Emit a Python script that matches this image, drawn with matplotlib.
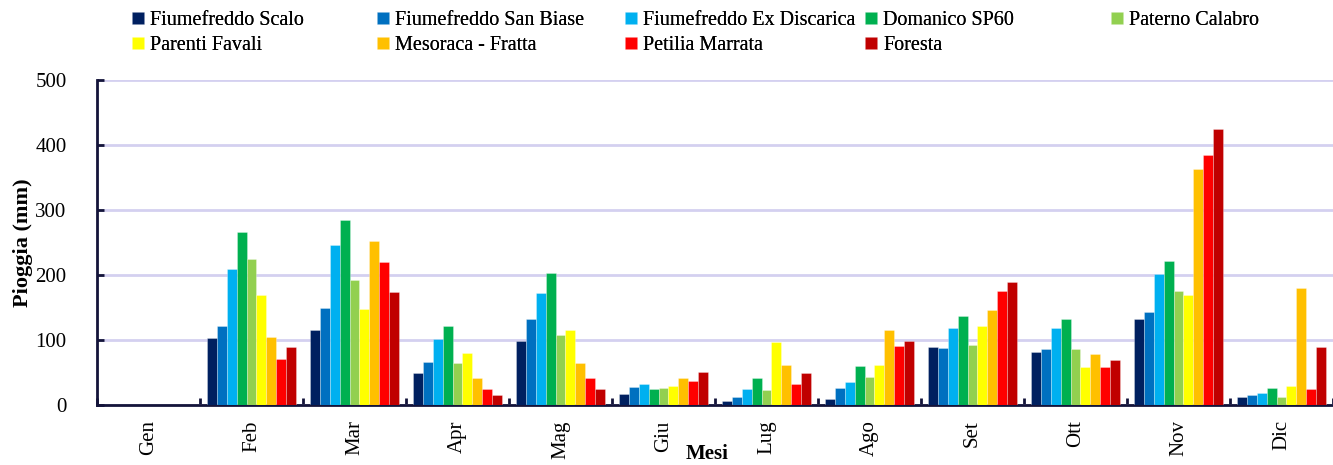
import matplotlib
matplotlib.use("Agg")
import matplotlib.pyplot as plt
import numpy as np

months = ["Gen", "Feb", "Mar", "Apr", "Mag", "Giu", "Lug", "Ago", "Set", "Ott", "Nov", "Dic"]

fiumefreddo_scalo = [0, 103, 116, 49, 99, 17, 6, 10, 90, 82, 132, 13]
fiumefreddo_san_biase = [0, 121, 149, 66, 133, 27, 13, 26, 87, 86, 143, 15]
fiumefreddo_ex_discarica = [0, 209, 246, 102, 173, 32, 24, 35, 118, 118, 201, 18]
domanico_sp60 = [0, 266, 285, 121, 203, 25, 41, 60, 137, 133, 221, 26]
paterno_calabro = [0, 225, 192, 64, 108, 26, 23, 43, 92, 86, 175, 13]
parenti_favali = [0, 169, 147, 80, 116, 29, 97, 61, 121, 59, 169, 30]
mesoraca_fratta = [0, 104, 253, 41, 64, 41, 61, 115, 146, 79, 363, 180]
petilia_marrata = [0, 71, 220, 24, 41, 37, 32, 91, 175, 58, 385, 25]
foresta = [0, 90, 174, 15, 25, 51, 49, 98, 189, 69, 425, 89]

series_names = ["Fiumefreddo Scalo", "Fiumefreddo San Biase", "Fiumefreddo Ex Discarica",
                "Domanico SP60", "Paterno Calabro", "Parenti Favali", "Mesoraca - Fratta",
                "Petilia Marrata", "Foresta"]
series_values = [fiumefreddo_scalo, fiumefreddo_san_biase, fiumefreddo_ex_discarica,
                 domanico_sp60, paterno_calabro, parenti_favali, mesoraca_fratta,
                 petilia_marrata, foresta]
colors = ["#002060", "#0070C0", "#00B0F0", "#00B050", "#92D050",
          "#FFFF00", "#FFC000", "#FF0000", "#C00000"]

plt.rcParams['font.family'] = ['Liberation Serif', 'DejaVu Serif']

W, H = 1333, 465
fig = plt.figure(figsize=(W / 100, H / 100), dpi=100)
ax = fig.add_axes([97 / W, (H - 405) / H, (1333 - 97) / W, (405 - 80) / H])

x = np.arange(len(months))
n = len(series_values)
bw = 0.0962
handles = []
for j, (name, vals, c) in enumerate(zip(series_names, series_values, colors)):
    b = ax.bar(x + (j - (n - 1) / 2) * bw, vals, width=bw, color=c,
               edgecolor=(1, 1, 1, 0.5), linewidth=0.4, label=name, zorder=3)
    handles.append(b)

ax.set_xlim(-0.5, len(months) - 0.5)
ax.set_ylim(0, 500)
ax.set_yticks([0, 100, 200, 300, 400, 500])
ax.yaxis.grid(True, color="#D4D0F0", linewidth=2, zorder=0)
ax.set_axisbelow(True)

spine_col = "#14143a"
for s in ["top", "right"]:
    ax.spines[s].set_visible(False)
for s in ["left", "bottom"]:
    ax.spines[s].set_color(spine_col)
    ax.spines[s].set_linewidth(2)

ax.set_xticks(np.arange(len(months) + 1) - 0.5)
ax.set_xticklabels([])
ax.set_xticks(x, minor=True)
ax.set_xticklabels(months, minor=True, rotation=90, fontsize=15, va="top")
ax.tick_params(axis="x", which="major", direction="in", length=5, width=2, color=spine_col)
ax.tick_params(axis="x", which="minor", length=0, pad=11)
ax.tick_params(axis="y", direction="in", length=5, width=2, color=spine_col,
               labelsize=15, pad=22)

ax.set_ylabel("Pioggia (mm)", fontsize=16, fontweight="bold")
ax.yaxis.set_label_coords(-64 / (1333 - 97), 0.5)

fig.text(707 / W, 1 / H, "Mesi", fontsize=15, fontweight="bold",
         ha="center", va="bottom")

col_x = [132, 377, 625, 865, 1111]
for c in range(5):
    idx = [c] if c + 5 >= n else [c, c + 5]
    leg = fig.legend([handles[i] for i in idx], [series_names[i] for i in idx],
                     loc="upper left", bbox_to_anchor=(col_x[c] / W, 1 - 11 / H),
                     frameon=False, fontsize=14.5, handlelength=0.6, handleheight=0.6,
                     handletextpad=0.3, labelspacing=0.3, borderpad=0, borderaxespad=0)
    fig.add_artist(leg)

fig.savefig("out.png", dpi=100)
